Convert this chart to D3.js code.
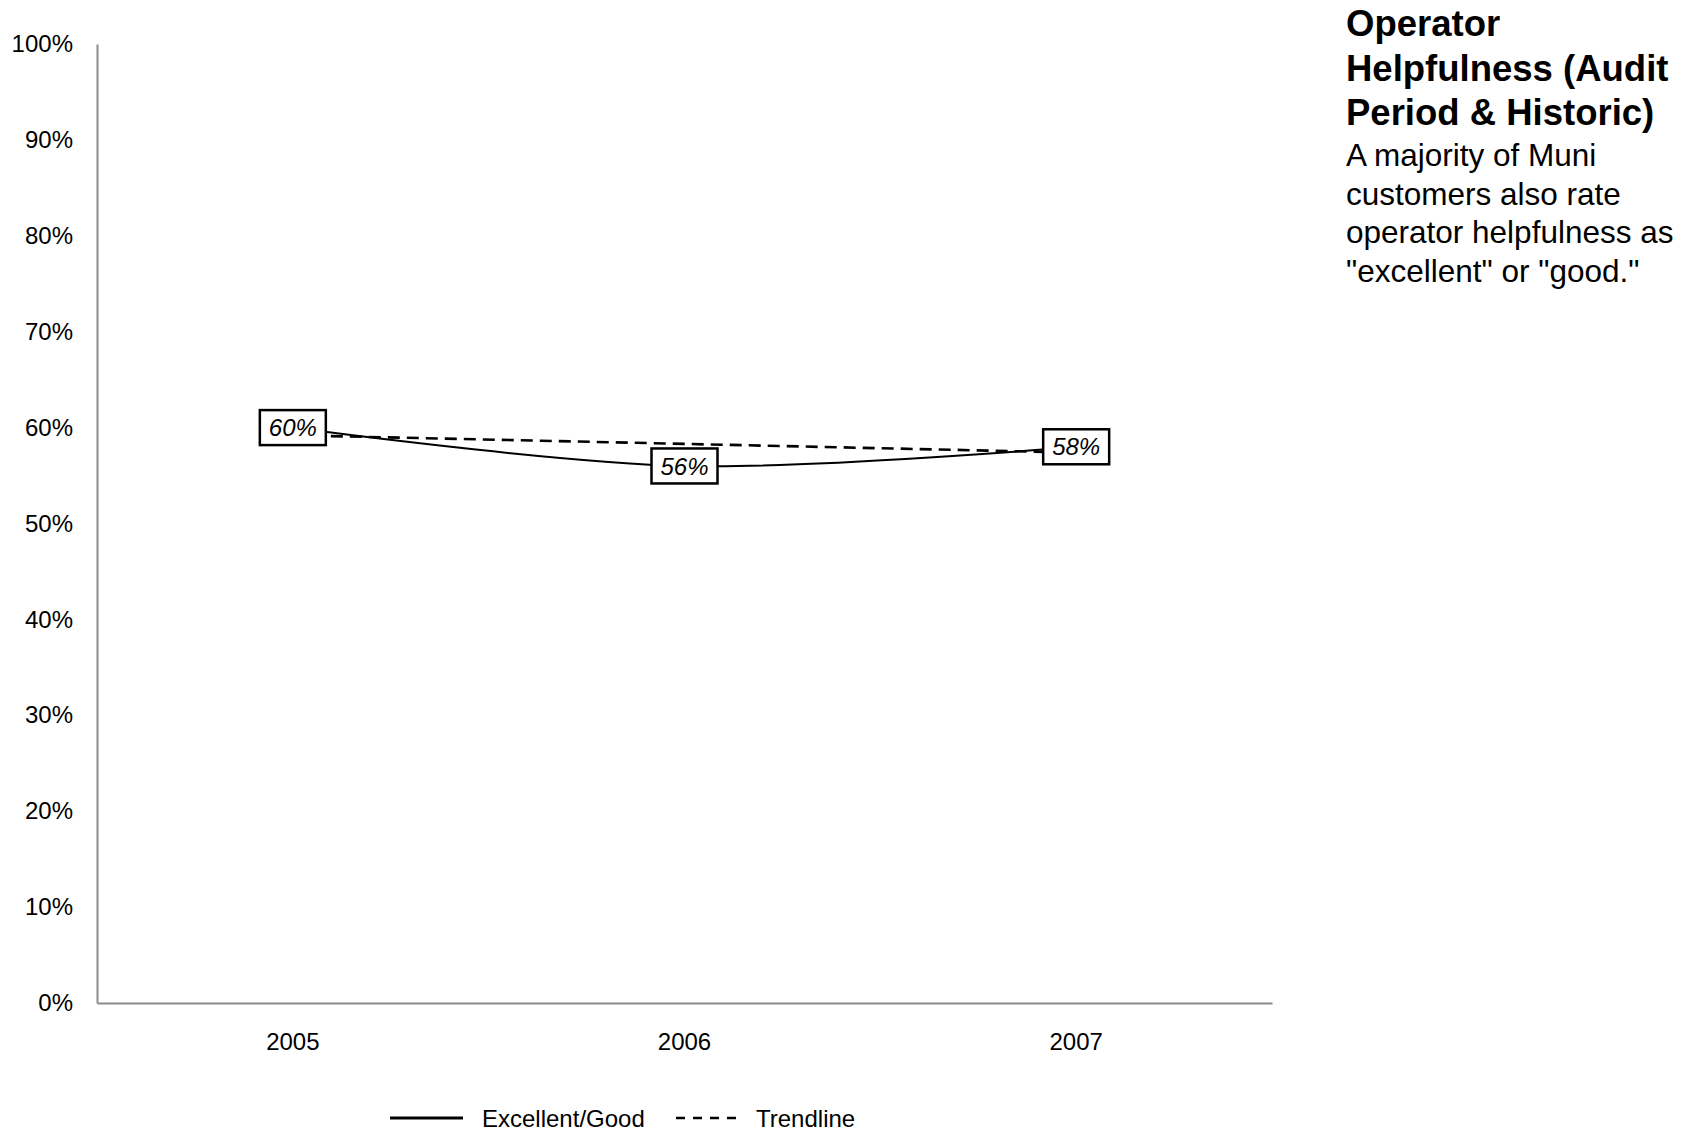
<!DOCTYPE html>
<html><head><meta charset="utf-8">
<script src="https://cdn.jsdelivr.net/npm/d3@7"></script>
<style>body{margin:0;background:#fff;} svg{display:block;font-family:"Liberation Sans",Arial,sans-serif;}</style>
</head><body>
<svg id="c" width="1688" height="1131"></svg>
<script>
const categories = ["2005","2006","2007"];
const excellentGood = [0.60, 0.56, 0.58];
const trendline = [0.592, 0.583, 0.574];
const dataLabels = ["60%","56%","58%"];
const yTicks = [0,0.1,0.2,0.3,0.4,0.5,0.6,0.7,0.8,0.9,1.0];
const titleLines = ["Operator","Helpfulness (Audit","Period & Historic)"];
const bodyLines = ["A majority of Muni","customers also rate","operator helpfulness as","\"excellent\" or \"good.\""];
const legendItems = [{name:"Excellent/Good",dash:null},{name:"Trendline",dash:"9,8"}];

const svg = d3.select("#c");
const L = 97, R = 1272, T = 44, B = 1003;
const x = d3.scaleBand().domain(categories).range([L,R]);
const y = d3.scaleLinear().domain([0,1]).range([B,T]);
const cx = d => x(d) + x.bandwidth()/2;

// y axis
const ya = svg.append("g").attr("transform",`translate(${L},0)`).call(d3.axisLeft(y).tickValues(yTicks).tickFormat(d3.format(".0%")).tickSize(0).tickPadding(24));
ya.select(".domain").attr("stroke","#8c8c8c").attr("stroke-width",2);
ya.selectAll("text").attr("font-size",24).attr("fill","#000").attr("font-family","Liberation Sans, Arial, sans-serif");
// x axis
const xa = svg.append("g").attr("transform",`translate(0,${B})`).call(d3.axisBottom(x).tickSize(0).tickPadding(30));
xa.select(".domain").attr("stroke","#8c8c8c").attr("stroke-width",2);
xa.selectAll("text").attr("font-size",24).attr("fill","#000").attr("font-family","Liberation Sans, Arial, sans-serif");

// trendline
svg.append("path").datum(trendline)
  .attr("d", d3.line().x((d,i)=>cx(categories[i])).y(d=>y(d)))
  .attr("fill","none").attr("stroke","#000").attr("stroke-width",2.6).attr("stroke-dasharray","12,7");
// series
svg.append("path").datum(excellentGood)
  .attr("d", d3.line().x((d,i)=>cx(categories[i])).y(d=>y(d)).curve(d3.curveCatmullRom.alpha(0.5)))
  .attr("fill","none").attr("stroke","#000").attr("stroke-width",2);

// data labels
const lab = svg.append("g").selectAll("g").data(excellentGood).join("g")
  .attr("transform",(d,i)=>`translate(${cx(categories[i])},${y(d)})`);
lab.append("rect").attr("x",-33).attr("y",-17.5).attr("width",66).attr("height",35)
  .attr("fill","#fff").attr("stroke","#000").attr("stroke-width",2.5);
lab.append("text").text((d,i)=>dataLabels[i]).attr("text-anchor","middle").attr("dy","0.36em")
  .attr("font-size",24).attr("font-style","italic");

// title
svg.append("g").selectAll("text").data(titleLines).join("text")
  .attr("x",1346).attr("y",(d,i)=>36+i*44.5).attr("font-size",36.5).attr("font-weight","bold").text(d=>d);
svg.append("g").selectAll("text").data(bodyLines).join("text")
  .attr("x",1346).attr("y",(d,i)=>166+i*38.5).attr("font-size",31.5).text(d=>d);

// legend
const lg = svg.append("g");
const lx = [390, 676];
legendItems.forEach((it,i)=>{
  lg.append("line").attr("x1",lx[i]).attr("x2",lx[i]+(i===0?73:60)).attr("y1",1118).attr("y2",1118)
    .attr("stroke","#000").attr("stroke-width",i===0?3:2.6).attr("stroke-dasharray",it.dash);
  lg.append("text").attr("x",lx[i]+(i===0?92:80)).attr("y",1118).attr("dy","0.36em").attr("font-size",24).text(it.name);
});
</script>
</body></html>
